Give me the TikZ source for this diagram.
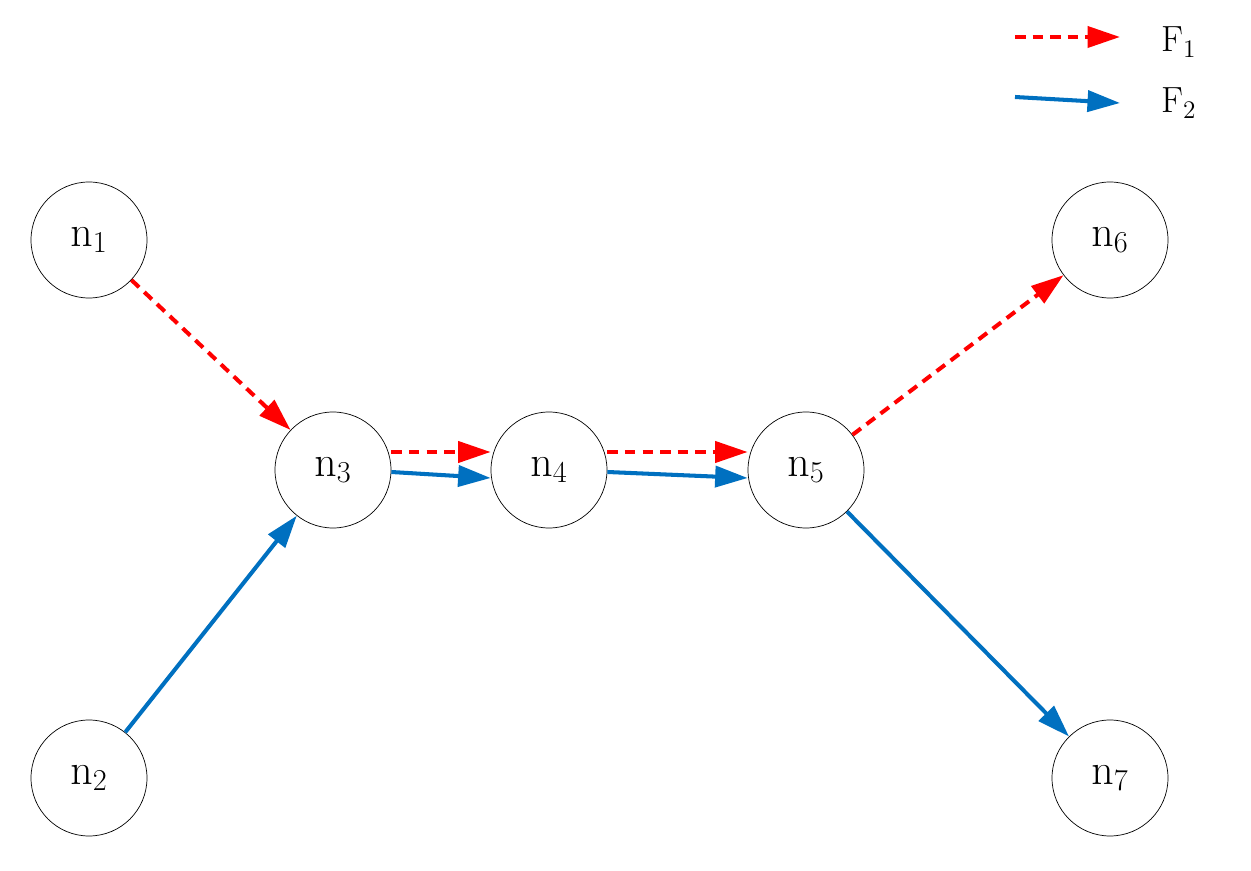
\documentclass[tikz,border=0pt]{standalone}
\usetikzlibrary{arrows.meta}
\definecolor{fred}{RGB}{255,0,0}
\definecolor{fblue}{RGB}{0,112,192}
\tikzset{
  state/.style={circle,draw,thin,minimum size=2.32cm,inner sep=0pt,font=\fontsize{24}{28}\selectfont},
  flowone/.style={fred,line width=2.3pt,dash pattern=on 6pt off 4pt,-{Triangle[length=0.65cm,width=0.42cm]}},
  flowtwo/.style={fblue,line width=2.3pt,-{Triangle[length=0.65cm,width=0.42cm]}},
  legtext/.style={font=\fontsize{22}{26}\selectfont,anchor=west}
}
\begin{document}
\begin{tikzpicture}
\useasboundingbox (0,0) rectangle (25.02,17.4);
% nodes
\node[state] (n1) at (1.78,12.6) {$\mathrm{n}_1$};
\node[state] (n2) at (1.78,1.84) {$\mathrm{n}_2$};
\node[state] (n3) at (6.66,8.0) {$\mathrm{n}_3$};
\node[state] (n4) at (10.98,8.0) {$\mathrm{n}_4$};
\node[state] (n5) at (16.12,8.0) {$\mathrm{n}_5$};
\node[state] (n6) at (22.2,12.6) {$\mathrm{n}_6$};
\node[state] (n7) at (22.2,1.84) {$\mathrm{n}_7$};
% flow F1
\draw[flowone] (n1) -- (n3);
\draw[flowone] ([yshift=0.36cm]n3.east) -- ([yshift=0.36cm]n4.west);
\draw[flowone] ([yshift=0.36cm]n4.east) -- ([yshift=0.36cm]n5.west);
\draw[flowone] (n5) -- (n6);
% flow F2
\draw[flowtwo] (n2) -- (n3);
\draw[flowtwo] ([yshift=-0.04cm]n3.east) -- ([yshift=-0.16cm]n4.west);
\draw[flowtwo] ([yshift=-0.04cm]n4.east) -- ([yshift=-0.16cm]n5.west);
\draw[flowtwo] (n5) -- (n7);
% legend
\coordinate (l1a) at (20.3,16.66);
\coordinate (l1b) at (22.4,16.66);
\coordinate (l2a) at (20.3,15.46);
\coordinate (l2b) at (22.4,15.34);
\draw[flowone] (l1a) -- (l1b);
\draw[flowtwo] (l2a) -- (l2b);
\node[legtext] (f1) at (23.1,16.56) {$\mathrm{F}_1$};
\node[legtext] (f2) at (23.1,15.34) {$\mathrm{F}_2$};
\end{tikzpicture}
\end{document}
